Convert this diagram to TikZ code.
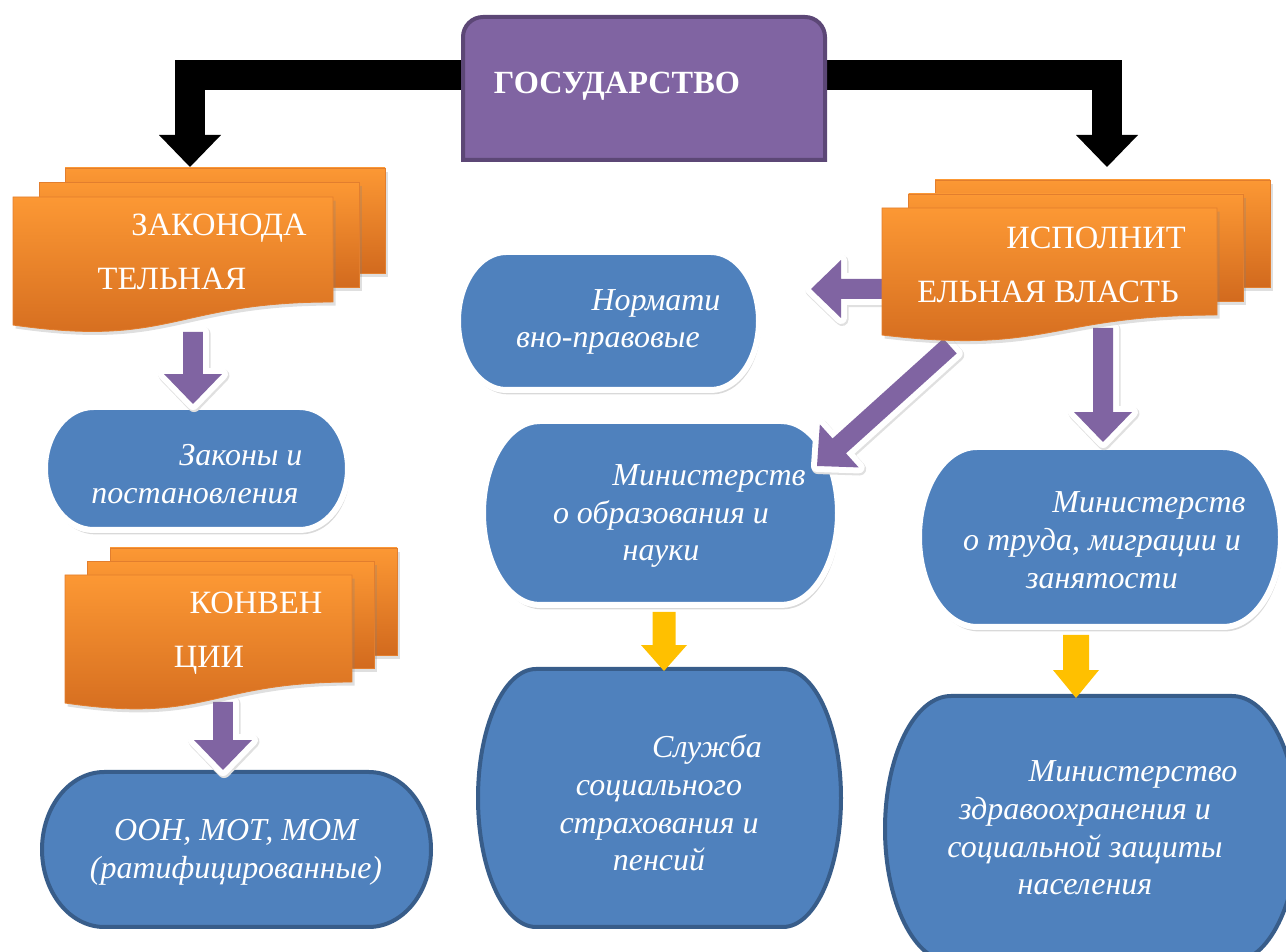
\documentclass[tikz,border=0pt]{standalone}
\usepackage{fontspec}
\setmainfont{Liberation Serif}
\usepackage{tikz}
\usetikzlibrary{calc}
\usetikzlibrary{shadows}

\definecolor{statepurple}{RGB}{128,100,162}
\definecolor{stateborder}{RGB}{92,71,118}
\definecolor{boxblue}{RGB}{79,129,189}
\definecolor{boxborder}{RGB}{56,93,138}
\definecolor{arrowyellow}{RGB}{255,192,0}
\definecolor{doctop}{RGB}{252,152,52}
\definecolor{docbottom}{RGB}{210,106,30}
\definecolor{docedge}{RGB}{226,126,46}

\tikzset{
  blackbar/.style={line width=0.6cm, black},
  statebox/.style={fill=statepurple, draw=stateborder, line width=0.08cm},
  doclayer/.style={top color=doctop, bottom color=docbottom, draw=docedge, line width=0.5pt,
    drop shadow={opacity=0.25, shadow xshift=1.5pt, shadow yshift=-2pt}},
  pillwhite/.style={fill=boxblue, draw=white, line width=0.12cm,
    drop shadow={opacity=0.3, shadow xshift=1pt, shadow yshift=-2.5pt}},
  pilldark/.style={fill=boxblue, draw=boxborder, line width=0.08cm},
  purplearrow/.style={fill=statepurple,
    preaction={draw=black!12, line width=0.26cm, line join=round, transform canvas={xshift=0.6pt, yshift=-0.9pt}},
    preaction={draw=white, line width=0.24cm, line join=round}},
  yellowarrow/.style={fill=arrowyellow},
  statetext/.style={text=white, font=\fontsize{18.4}{22}\selectfont\bfseries},
  doctext/.style={text=white, align=center, font=\fontsize{18.5}{31}\selectfont},
  bluetext/.style={text=white, align=center, font=\fontsize{18.2}{21.5}\selectfont\itshape},
}

% pill: style, x1, y1, x2, y2
\newcommand{\pill}[5]{%
  \pgfmathsetmacro\pillrx{0.16*(#4-#2)}
  \pgfmathsetmacro\pillry{(#5-#3)/2}
  \draw[#1] ({#2+\pillrx},#3) -- ({#4-\pillrx},#3)
    .. controls ({#4-0.448*\pillrx},#3) and (#4,{#3+0.448*\pillry}) .. (#4,{#3+\pillry})
    .. controls (#4,{#5-0.448*\pillry}) and ({#4-0.448*\pillrx},#5) .. ({#4-\pillrx},#5)
    -- ({#2+\pillrx},#5)
    .. controls ({#2+0.448*\pillrx},#5) and (#2,{#5-0.448*\pillry}) .. (#2,{#3+\pillry})
    .. controls (#2,{#3+0.448*\pillry}) and ({#2+0.448*\pillrx},#3) .. ({#2+\pillrx},#3) -- cycle;}

% multidoc: x0, y0, w, right bottom, left bottom, dx, dy
\newcommand{\multidoc}[7]{%
  \draw[doclayer] ({#1+2*#6},{#2-2*#7}) rectangle ({#1+2*#6+#3},{#4-2*#7});
  \draw[doclayer] ({#1+#6},{#2-#7}) rectangle ({#1+#6+#3},{#4-#7});
  \draw[doclayer] (#1,#2) -- ({#1+#3},#2) -- ({#1+#3},#4)
    .. controls ({#1+0.5*#3},#4) and ({#1+0.5*#3},{#4+2*(#5-#4)}) .. (#1,#5) -- cycle;}

% block arrow: style, from, to, stem half, head half, head length
\newcommand{\blockarrow}[6]{%
  \coordinate (ah) at ($(#3)!#6!(#2)$);
  \path[#1] ($(#2)!#4!90:(#3)$) -- ($(ah)!#4!90:(#3)$) -- ($(ah)!#5!90:(#3)$) -- (#3)
    -- ($(ah)!#5!-90:(#3)$) -- ($(ah)!#4!-90:(#3)$) -- ($(#2)!#4!-90:(#3)$) -- cycle;}

\begin{document}
\begin{tikzpicture}[line join=miter,x=0.02cm,y=-0.02cm]
\useasboundingbox (0,0) rectangle (1286,952);

% black connectors from the state
\coordinate (stateW) at (463,75);
\coordinate (stateE) at (825,75);
\coordinate (zakTip) at (190,167);
\coordinate (isoTip) at (1107,167);
\draw[blackbar] (stateW) -| ($(zakTip)+(0,-32)$);
\fill (zakTip) -- ++(-31,-32) -- ++(62,0) -- cycle;
\draw[blackbar] (stateE) -| ($(isoTip)+(0,-32)$);
\fill (isoTip) -- ++(-31,-32) -- ++(62,0) -- cycle;

% state
\draw[statebox] (463,160) -- (463,37) .. controls (463,26) and (472,17) .. (483,17)
  -- (805,17) .. controls (816,17) and (825,26) .. (825,37) -- (825,160) -- cycle;
\node[statetext] (state) at (617,86) {ГОСУДАРСТВО};

% blue boxes
\pill{pillwhite}{45}{407}{348}{530}
\pill{pilldark}{42}{772}{431}{927}
\pill{pillwhite}{458}{252}{759}{390}
\pill{pillwhite}{483}{421}{838}{605}
\pill{pilldark}{478}{669}{841}{927}
\pill{pillwhite}{919}{447}{1281}{627}
\pill{pilldark}{885}{696}{1298}{962}

% arrows
\coordinate (zakB) at (193,332);
\coordinate (lawsT) at (193,404);
\coordinate (konB) at (223,702);
\coordinate (unT) at (223,770);
\coordinate (isoL) at (884,289);
\coordinate (normR) at (811,289);
\coordinate (isoBL) at (950,346);
\coordinate (eduR) at (817,466);
\coordinate (isoB) at (1103,328);
\coordinate (labT) at (1103,442);
\coordinate (eduB) at (664,612);
\coordinate (socT) at (664,671);
\coordinate (labB) at (1076,635);
\coordinate (heaT) at (1076,698);
\blockarrow{purplearrow}{zakB}{lawsT}{0.2cm}{0.58cm}{0.6cm}
\blockarrow{purplearrow}{konB}{unT}{0.2cm}{0.58cm}{0.6cm}
\blockarrow{purplearrow}{isoL}{normR}{0.2cm}{0.58cm}{0.6cm}
\blockarrow{purplearrow}{isoBL}{eduR}{0.2cm}{0.58cm}{0.6cm}
\blockarrow{purplearrow}{isoB}{labT}{0.2cm}{0.58cm}{0.6cm}
\blockarrow{yellowarrow}{eduB}{socT}{0.23cm}{0.46cm}{0.52cm}
\blockarrow{yellowarrow}{labB}{heaT}{0.26cm}{0.46cm}{0.56cm}

% orange documents
\multidoc{13}{197}{320}{302}{325}{26}{14.5}
\multidoc{65}{575}{287}{682}{703}{22.5}{13.5}
\multidoc{882}{208}{335}{315}{335}{26.5}{14}

% texts
\node[doctext] (zakon) at (172,252) {\hspace*{1.88cm}ЗАКОНОДА\\ТЕЛЬНАЯ};
\node[doctext] (konv) at (209,633) {\hspace*{1.88cm}КОНВЕН\\ЦИИ};
\node[doctext] (ispoln) at (1048,265) {\hspace*{1.92cm}ИСПОЛНИТ\\ЕЛЬНАЯ ВЛАСТЬ};
\node[bluetext] (laws) at (195,474) {\hspace*{1.84cm}Законы и\\постановления};
\node[bluetext] (norms) at (608,322) {\hspace*{1.92cm}Нормати\\вно-правовые};
\node[bluetext] (edu) at (661,516) {\hspace*{1.92cm}Министерств\\о образования и\\науки};
\node[bluetext] (social) at (659,803) {\hspace*{1.92cm}Служба\\социального\\страхования и\\пенсий};
\node[bluetext] (labour) at (1102,540) {\hspace*{1.88cm}Министерств\\о труда, миграции и\\занятости};
\node[bluetext] (health) at (1085,828) {\hspace*{1.92cm}Министерство\\здравоохранения и\\социальной защиты\\населения};
\node[bluetext] (un) at (236,852) {ООН, МОТ, МОМ\\(ратифицированные)};
\end{tikzpicture}
\end{document}
